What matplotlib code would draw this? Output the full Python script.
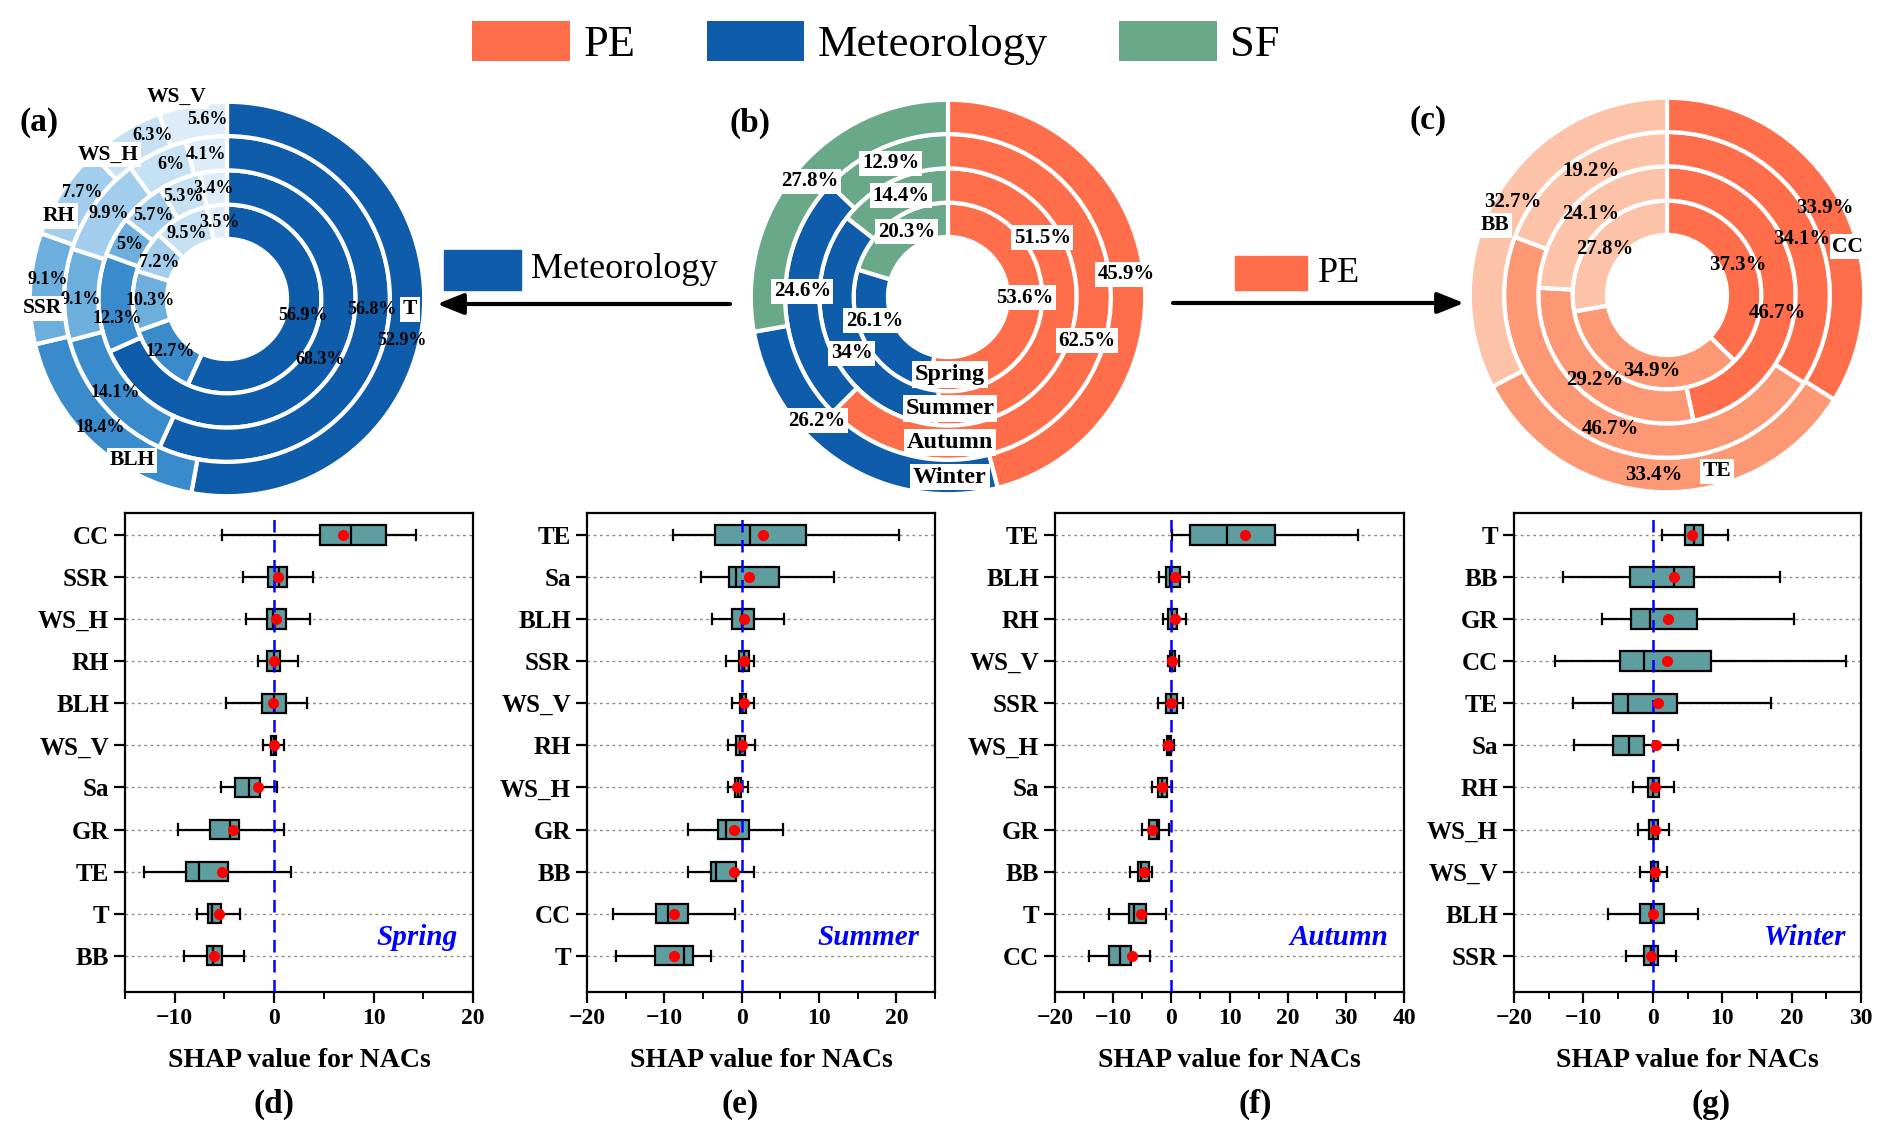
import matplotlib.pyplot as plt
from matplotlib.patches import Patch, Rectangle
from matplotlib.ticker import MultipleLocator
import numpy as np

plt.rcParams['font.family'] = 'Liberation Serif'
plt.rcParams['font.weight'] = 'bold'

# ---- top row: contribution shares (%), rings inner (Spring) -> outer (Winter)
seasons = ['Spring', 'Summer', 'Autumn', 'Winter']

met_vars = ['T', 'BLH', 'SSR', 'RH', 'WS_H', 'WS_V']
met_spring = [56.9, 12.7, 10.3, 7.2, 9.5, 3.5]
met_summer = [68.3, 12.3, 5, 5.7, 5.3, 3.4]
met_autumn = [56.8, 14.1, 9.1, 9.9, 6, 4.1]
met_winter = [52.9, 18.4, 9.1, 7.7, 6.3, 5.6]

src_groups = ['PE', 'Meteorology', 'SF']
src_spring = [53.6, 26.1, 20.3]
src_summer = [51.5, 34, 14.4]
src_autumn = [62.5, 24.6, 12.9]
src_winter = [45.9, 26.2, 27.8]

pe_vars = ['CC', 'TE', 'BB']
pe_spring = [37.3, 34.9, 27.8]
pe_summer = [46.7, 29.2, 24.1]
pe_autumn = [34.1, 46.7, 19.2]
pe_winter = [33.9, 33.4, 32.7]

# ---- bottom row: SHAP value boxes (whisker low, q1, median, q3, whisker high, mean)
spring_names = ['CC', 'SSR', 'WS_H', 'RH', 'BLH', 'WS_V', 'Sa', 'GR', 'TE', 'T', 'BB']
spring_wlo = [-5.2, -3.1, -2.8, -1.6, -4.8, -1.1, -5.3, -9.7, -13.1, -7.8, -9.1]
spring_q1 = [4.6, -0.6, -0.7, -0.7, -1.2, -0.3, -3.9, -6.5, -8.9, -6.7, -6.8]
spring_med = [7.7, 0.5, -0.1, 0.0, 0.0, 0.0, -2.5, -4.4, -7.6, -6.2, -6.1]
spring_q3 = [11.2, 1.3, 1.2, 0.6, 1.2, 0.2, -1.4, -3.5, -4.6, -5.3, -5.2]
spring_whi = [14.3, 3.9, 3.6, 2.4, 3.3, 1.0, 0.3, 1.0, 1.7, -3.4, -3.0]
spring_mean = [6.9, 0.4, 0.2, 0.0, -0.1, 0.0, -1.6, -4.1, -5.2, -5.5, -6.0]

summer_names = ['TE', 'Sa', 'BLH', 'SSR', 'WS_V', 'RH', 'WS_H', 'GR', 'BB', 'CC', 'T']
summer_wlo = [-8.9, -5.3, -3.8, -2.0, -1.2, -1.8, -1.8, -6.9, -6.9, -16.6, -16.3]
summer_q1 = [-3.5, -1.6, -1.3, -0.4, -0.2, -0.7, -0.9, -3.1, -4.0, -11.1, -11.2]
summer_med = [1.1, -0.7, 0.0, 0.3, 0.1, -0.2, -0.5, -2.0, -3.3, -9.5, -7.4]
summer_q3 = [8.3, 4.8, 1.6, 0.9, 0.6, 0.4, -0.1, 0.9, -0.7, -6.9, -6.3]
summer_whi = [20.4, 12.0, 5.5, 1.6, 1.6, 1.7, 0.8, 5.3, 1.6, -0.8, -4.0]
summer_mean = [2.7, 1.0, 0.3, 0.3, 0.3, 0.1, -0.6, -1.0, -1.0, -8.7, -8.8]

autumn_names = ['TE', 'BLH', 'RH', 'WS_V', 'SSR', 'WS_H', 'Sa', 'GR', 'BB', 'T', 'CC']
autumn_wlo = [0.2, -2.1, -1.4, -0.6, -2.3, -1.3, -3.4, -5.1, -7.1, -10.7, -14.1]
autumn_q1 = [3.2, -1.0, -0.5, -0.2, -0.9, -0.7, -2.3, -3.8, -5.8, -7.2, -10.7]
autumn_med = [9.6, -0.2, 0.1, 0.1, 0.0, -0.4, -1.6, -2.5, -5.2, -6.5, -8.9]
autumn_q3 = [17.9, 1.5, 1.0, 0.6, 1.0, -0.1, -0.7, -2.1, -3.8, -4.4, -7.0]
autumn_whi = [32.1, 3.0, 2.5, 1.3, 2.0, 0.5, 0.2, -0.4, -3.3, -0.9, -3.7]
autumn_mean = [12.6, 0.6, 0.7, 0.2, -0.1, -0.5, -1.6, -3.3, -4.7, -5.3, -6.8]

winter_names = ['T', 'BB', 'GR', 'CC', 'TE', 'Sa', 'RH', 'WS_H', 'WS_V', 'BLH', 'SSR']
winter_wlo = [1.3, -13.0, -7.3, -14.1, -11.5, -11.3, -2.8, -2.2, -1.8, -6.5, -3.9]
winter_q1 = [4.7, -3.3, -3.2, -4.7, -5.7, -5.7, -0.7, -0.5, -0.3, -1.8, -1.2]
winter_med = [6.0, 3.0, -0.4, -1.3, -3.6, -3.5, 0.1, 0.1, 0.2, -0.2, -0.3]
winter_q3 = [7.2, 6.0, 6.3, 8.4, 3.5, -1.2, 0.9, 0.7, 0.8, 1.6, 0.8]
winter_whi = [10.9, 18.4, 20.4, 27.8, 17.1, 3.6, 3.1, 2.4, 2.1, 6.5, 3.4]
winter_mean = [5.6, 3.1, 2.2, 2.0, 0.8, 0.5, 0.3, 0.3, 0.3, 0.1, -0.3]

# colours
c_pe, c_met, c_sf = '#FF6E4A', '#0F5CAB', '#69A888'
met_colors = ['#0F5CAB', '#3A8BCB', '#6CAEDC', '#A3CDEC', '#C6E0F4', '#DDECF8']
pe_colors = ['#FF6E4A', '#FC9874', '#FDC3A8']

# label nudges (degrees) so the texts sit like in the original
a_pct_shift = [[0, 0, 0, -2, -2, 1], [0, -8, 0, 0, -1, -1], [-8, 0, -2, 0, 3, -1], [8, 1, 3, 3, 7, 4]]
b_pct_shift = [[-6, 12, 4], [-35, -7, 1], [-5, 3, 0], [0, 14, 0]]
c_pct_shift = [[0, -6, -3], [15, 0, 0], [6, -4, 3], [0, 2, 0]]
a_lab_shift = [-2, -13, -6, -7, -8, -4]
a_lab_rad = [0.93, 0.95, 0.94, 0.95, 0.95, 1.06]
c_lab_shift = [14, -18, -9]
c_lab_rad = [0.95, 0.93, 0.94]

W, H = 1892, 1148
fig = plt.figure(figsize=(W / 100, H / 100), dpi=100)

# overlay for arrows / small legends
ov = fig.add_axes([0, 0, 1, 1])
ov.set_xlim(0, W)
ov.set_ylim(H, 0)
ov.axis('off')

R_OUT = 197
R_HOLE = 0.305
R_W = 0.174
BOX = dict(boxstyle='square,pad=0.12', fc='white', ec='none')


def pie_axes(cx, cy):
    half = 232
    return fig.add_axes([(cx - half) / W, 1 - (cy + half) / H, 2 * half / W, 2 * half / H])


def donut(ax, rings, colors, shifts, pct_size, pct_box=None):
    mids = []
    for i, vals in enumerate(rings):
        r = R_HOLE + R_W * (i + 1)
        ax.pie(vals, radius=r, colors=colors, startangle=90, counterclock=False,
               wedgeprops=dict(width=R_W, edgecolor='white', linewidth=3))
        cum = np.cumsum([0] + list(vals))
        rm = r - R_W / 2
        ring_mid = []
        for j, v in enumerate(vals):
            mid = (cum[j] + v / 2) / cum[-1] * 360
            ring_mid.append(mid)
            th = np.deg2rad(mid + shifts[i][j])
            ax.text(rm * np.sin(th), rm * np.cos(th), f'{v:g}%', ha='center', va='center',
                    fontsize=pct_size, fontweight='bold', bbox=pct_box, zorder=5)
        mids.append(ring_mid)
    lim = 232 / R_OUT
    ax.set_xlim(-lim, lim)
    ax.set_ylim(-lim, lim)
    return mids


def cat_labels(ax, names, mids, shifts, rads):
    for name, m, s, rr in zip(names, mids, shifts, rads):
        t = np.deg2rad(m + s)
        ax.text(rr * np.sin(t), rr * np.cos(t), name, ha='center', va='center',
                fontsize=15.5, fontweight='bold', bbox=BOX, zorder=6)


# (a) meteorology breakdown
ax_a = pie_axes(227, 299)
mids = donut(ax_a, [met_spring, met_summer, met_autumn, met_winter], met_colors, a_pct_shift, 13)
cat_labels(ax_a, met_vars, mids[-1], a_lab_shift, a_lab_rad)

# (b) source groups
ax_b = pie_axes(948, 297)
donut(ax_b, [src_spring, src_summer, src_autumn, src_winter], [c_pe, c_met, c_sf],
      b_pct_shift, 15, BOX)
for i, s in enumerate(seasons):
    rm = R_HOLE + R_W * (i + 0.5)
    ax_b.text(0.01, -rm, s, ha='center', va='center', fontsize=17.5,
              fontweight='bold', bbox=BOX, zorder=6)

# (c) PE breakdown
ax_c = pie_axes(1667, 295)
mids = donut(ax_c, [pe_spring, pe_summer, pe_autumn, pe_winter], pe_colors, c_pct_shift, 15)
cat_labels(ax_c, pe_vars, mids[-1], c_lab_shift, c_lab_rad)

# arrows and mini legends
arrow = dict(arrowstyle='-|>,head_length=0.8,head_width=0.32', lw=3, color='black',
             mutation_scale=20, shrinkA=0, shrinkB=0)
ov.annotate('', xy=(437, 304), xytext=(730, 304), arrowprops=arrow)
ov.annotate('', xy=(1464, 303), xytext=(1173, 303), arrowprops=arrow)
ov.add_patch(Rectangle((444, 250), 77, 40, color=c_met))
ov.text(531, 270, 'Meteorology', fontsize=26, fontweight='normal', va='center', ha='left')
ov.add_patch(Rectangle((1235, 256), 72, 34, color=c_pe))
ov.text(1318, 273, 'PE', fontsize=26, fontweight='normal', va='center', ha='left')

for lab, x, y in [('(a)', 39, 123), ('(b)', 750, 123), ('(c)', 1428, 120),
                  ('(d)', 274, 1104), ('(e)', 740, 1104), ('(f)', 1255, 1104), ('(g)', 1711, 1104)]:
    ov.text(x, y, lab, fontsize=24, fontweight='bold', ha='center', va='center')

fig.legend(handles=[Patch(facecolor=c, label=l) for c, l in zip([c_pe, c_met, c_sf], src_groups)],
           loc='center', bbox_to_anchor=(876 / W, 1 - 43 / H), ncol=3, frameon=False,
           prop=dict(family='Liberation Serif', weight='normal', size=32),
           handlelength=2.2, handleheight=1.0, handletextpad=0.3, columnspacing=1.6)


# ---- SHAP box panels
def shap_panel(left_px, right_px, names, wlo, q1, med, q3, whi, mean, xlim, season):
    ax = fig.add_axes([left_px / W, 1 - 992 / H, (right_px - left_px) / W, 479 / H])
    n = len(names)
    pos = np.arange(n)[::-1]
    stats = [dict(whislo=a, q1=b, med=c, q3=d, whishi=e, mean=f, fliers=[])
             for a, b, c, d, e, f in zip(wlo, q1, med, q3, whi, mean)]
    ax.bxp(stats, positions=pos, widths=0.46, capwidths=0.24, orientation='horizontal',
           patch_artist=True, showmeans=True,
           boxprops=dict(facecolor='#5F9EA0', edgecolor='black', linewidth=1.6),
           medianprops=dict(color='black', linewidth=1.6),
           whiskerprops=dict(color='black', linewidth=1.6),
           capprops=dict(color='black', linewidth=1.6),
           meanprops=dict(marker='o', markerfacecolor='red', markeredgecolor='red',
                          markersize=7, zorder=5))
    ax.axvline(0, color='blue', ls=(0, (5, 3)), lw=1.8, zorder=4)
    ax.set_yticks(pos, names)
    ax.set_ylim(-0.86, n - 1 + 0.52)
    ax.set_xlim(*xlim)
    ax.xaxis.set_major_locator(MultipleLocator(10))
    ax.xaxis.set_minor_locator(MultipleLocator(5))
    ax.yaxis.grid(True, linestyle=(0, (2, 2.5)), color='#8c8c8c', lw=1)
    ax.set_axisbelow(True)
    ax.tick_params(axis='both', which='major', direction='out', length=8, width=1.6)
    ax.tick_params(axis='x', which='minor', direction='out', length=5, width=1.4)
    ax.tick_params(axis='x', labelsize=17)
    ax.tick_params(axis='y', labelsize=18)
    for sp in ax.spines.values():
        sp.set_linewidth(1.6)
    ax.set_xlabel('SHAP value for NACs', fontsize=20, fontweight='bold', labelpad=14)
    ax.text(0.955, 0.113, season, transform=ax.transAxes, ha='right', va='center',
            fontsize=21, fontweight='bold', fontstyle='italic', color='blue')
    return ax


shap_panel(125, 473, spring_names, spring_wlo, spring_q1, spring_med, spring_q3,
           spring_whi, spring_mean, (-15, 20), 'Spring')
shap_panel(587, 935, summer_names, summer_wlo, summer_q1, summer_med, summer_q3,
           summer_whi, summer_mean, (-20, 25), 'Summer')
shap_panel(1055, 1404, autumn_names, autumn_wlo, autumn_q1, autumn_med, autumn_q3,
           autumn_whi, autumn_mean, (-20, 40), 'Autumn')
shap_panel(1514, 1861, winter_names, winter_wlo, winter_q1, winter_med, winter_q3,
           winter_whi, winter_mean, (-20, 30), 'Winter')

fig.savefig('out.png', dpi=100)
